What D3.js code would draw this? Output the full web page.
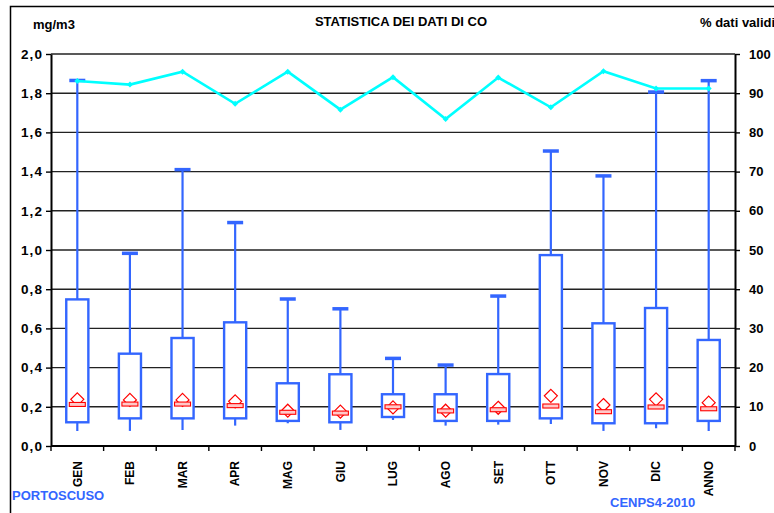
<!DOCTYPE html>
<html>
<head>
<meta charset="utf-8">
<script src="https://cdn.jsdelivr.net/npm/d3@7"></script>
<style>
  body { margin: 0; background: #fff; }
  text { font-family: "Liberation Sans", Arial, sans-serif; font-weight: bold; }
</style>
</head>
<body>
<div id="chart"></div>
<script>
// CO statistics per month (mg/m3) + % valid data
const categories = ['GEN', 'FEB', 'MAR', 'APR', 'MAG', 'GIU', 'LUG', 'AGO', 'SET', 'OTT', 'NOV', 'DIC', 'ANNO'];
const whiskerLow = [0.077, 0.077, 0.082, 0.104, 0.116, 0.082, 0.133, 0.104, 0.109, 0.112, 0.077, 0.090, 0.077];
const quartile1 = [0.121, 0.141, 0.141, 0.141, 0.128, 0.121, 0.148, 0.128, 0.128, 0.141, 0.116, 0.116, 0.128];
const medians = [0.212, 0.214, 0.214, 0.206, 0.172, 0.168, 0.200, 0.179, 0.185, 0.204, 0.175, 0.199, 0.190];
const means = [0.238, 0.235, 0.235, 0.228, 0.180, 0.175, 0.197, 0.180, 0.195, 0.256, 0.209, 0.238, 0.221];
const quartile3 = [0.748, 0.471, 0.551, 0.631, 0.320, 0.366, 0.264, 0.264, 0.367, 0.974, 0.626, 0.704, 0.541];
const whiskerHigh = [1.865, 0.983, 1.410, 1.140, 0.750, 0.700, 0.447, 0.413, 0.765, 1.505, 1.378, 1.806, 1.864];
const pctValid = [93.1, 92.2, 95.5, 87.3, 95.5, 85.8, 94.1, 83.4, 94.0, 86.4, 95.6, 91.2, 91.2];

const yTicks = [0, 0.2, 0.4, 0.6, 0.8, 1.0, 1.2, 1.4, 1.6, 1.8, 2.0];
const pctTicks = [0, 10, 20, 30, 40, 50, 60, 70, 80, 90, 100];

const dimensions = {
  width: 774,
  height: 513,
  plot: { left: 51, right: 735, top: 54, bottom: 446 }
}

const blue = '#3366ff';
const cyan = '#00ffff';
const red = '#ff0000';

const svg = d3.select('#chart')
  .append('svg')
  .attr('width', dimensions.width)
  .attr('height', dimensions.height);

// outer frame (only left and top visible)
svg.append('path')
  .attr('d', `M10.5,${dimensions.height} V6.5 H${dimensions.width}`)
  .attr('fill', 'none')
  .attr('stroke', '#000')
  .attr('stroke-width', 1.5);

// Scales
const xScale = d3.scaleBand()
  .domain(categories)
  .range([dimensions.plot.left, dimensions.plot.right]);

const yScale = d3.scaleLinear()
  .domain([0, 2])
  .range([dimensions.plot.bottom, dimensions.plot.top]);

const pctScale = d3.scaleLinear()
  .domain([0, 100])
  .range([dimensions.plot.bottom, dimensions.plot.top]);

const cx = d => xScale(d) + xScale.bandwidth() / 2;
const boxW = xScale.bandwidth() * 0.42;

// Gridlines
svg.append('g')
  .selectAll('line')
  .data(yTicks.slice(1))
  .join('line')
  .attr('x1', dimensions.plot.left)
  .attr('x2', dimensions.plot.right)
  .attr('y1', d => yScale(d))
  .attr('y2', d => yScale(d))
  .attr('stroke', '#222')
  .attr('stroke-width', 1.4);

// Whiskers
const boxes = svg.append('g');
boxes.selectAll('line.whisker')
  .data(categories)
  .join('line')
  .classed('whisker', true)
  .attr('x1', cx)
  .attr('x2', cx)
  .attr('y1', (d, i) => yScale(whiskerLow[i]))
  .attr('y2', (d, i) => yScale(whiskerHigh[i]))
  .attr('stroke', blue)
  .attr('stroke-width', 2.2);

boxes.selectAll('line.cap')
  .data(categories)
  .join('line')
  .classed('cap', true)
  .attr('x1', d => cx(d) - 8)
  .attr('x2', d => cx(d) + 8)
  .attr('y1', (d, i) => yScale(whiskerHigh[i]))
  .attr('y2', (d, i) => yScale(whiskerHigh[i]))
  .attr('stroke', blue)
  .attr('stroke-width', 3.5);

boxes.selectAll('rect.box')
  .data(categories)
  .join('rect')
  .classed('box', true)
  .attr('x', d => cx(d) - boxW / 2)
  .attr('width', boxW)
  .attr('y', (d, i) => yScale(quartile3[i]))
  .attr('height', (d, i) => yScale(quartile1[i]) - yScale(quartile3[i]))
  .attr('fill', '#fff')
  .attr('stroke', blue)
  .attr('stroke-width', 2.4);

// Mean diamonds
boxes.selectAll('path.mean')
  .data(categories)
  .join('path')
  .classed('mean', true)
  .attr('transform', (d, i) => `translate(${cx(d)}, ${yScale(means[i])})`)
  .attr('d', 'M0,-6.5 L6.5,0 L0,6.5 L-6.5,0 Z')
  .attr('fill', 'none')
  .attr('stroke', red)
  .attr('stroke-width', 1.2);

// Median markers
boxes.selectAll('rect.median')
  .data(categories)
  .join('rect')
  .classed('median', true)
  .attr('x', d => cx(d) - 8)
  .attr('width', 16)
  .attr('y', (d, i) => yScale(medians[i]) - 2)
  .attr('height', 4)
  .attr('fill', '#ffc8c8')
  .attr('stroke', red)
  .attr('stroke-width', 1.1);

// Axes
const fmt = d => d3.format('.1f')(d).replace('.', ',');

const yAxisGroup = svg.append('g')
  .attr('transform', `translate(${dimensions.plot.left}, 0)`)
  .call(d3.axisLeft(yScale).tickValues(yTicks).tickFormat(fmt).tickSize(5).tickSizeOuter(0).tickPadding(3));

const pctAxisGroup = svg.append('g')
  .attr('transform', `translate(${dimensions.plot.right}, 0)`)
  .call(d3.axisRight(pctScale).tickValues(pctTicks).tickSize(5).tickSizeOuter(0).tickPadding(9));

[yAxisGroup, pctAxisGroup].forEach(g => {
  g.select('.domain').attr('stroke', '#000').attr('stroke-width', 2);
  g.selectAll('.tick line').attr('stroke', '#000').attr('stroke-width', 1.4);
  g.selectAll('.tick text')
    .attr('fill', '#000')
    .style('font-size', '13px')
    .style('font-family', '"Liberation Sans", Arial, sans-serif')
    .style('font-weight', 'bold');
});
yAxisGroup.selectAll('.tick text')
  .style('font-size', '13.5px')
  .style('letter-spacing', '1.1px');

// x axis: line, boundary ticks and rotated labels
const xAxisGroup = svg.append('g');
xAxisGroup.append('line')
  .attr('x1', dimensions.plot.left)
  .attr('x2', dimensions.plot.right)
  .attr('y1', dimensions.plot.bottom)
  .attr('y2', dimensions.plot.bottom)
  .attr('stroke', '#000')
  .attr('stroke-width', 2);

xAxisGroup.selectAll('line.tick')
  .data(categories.map(d => xScale(d)).concat(dimensions.plot.right))
  .join('line')
  .classed('tick', true)
  .attr('x1', d => d)
  .attr('x2', d => d)
  .attr('y1', dimensions.plot.bottom)
  .attr('y2', dimensions.plot.bottom + 5)
  .attr('stroke', '#000')
  .attr('stroke-width', 1.4);

xAxisGroup.selectAll('text')
  .data(categories)
  .join('text')
  .attr('transform', d => `translate(${cx(d)}, 461) rotate(-90)`)
  .attr('dy', '0.36em')
  .attr('text-anchor', 'end')
  .style('font-size', '12px')
  .text(d => d);

// % valid line
const line = d3.line()
  .x((d, i) => cx(categories[i]))
  .y(d => pctScale(d));

svg.append('path')
  .datum(pctValid)
  .attr('d', line)
  .attr('fill', 'none')
  .attr('stroke', cyan)
  .attr('stroke-width', 2.6);

svg.append('g')
  .selectAll('path')
  .data(pctValid)
  .join('path')
  .attr('transform', (d, i) => `translate(${cx(categories[i])}, ${pctScale(d)})`)
  .attr('d', 'M0,-3 L3,0 L0,3 L-3,0 Z')
  .attr('fill', cyan);

// Texts
svg.append('text')
  .attr('x', 401).attr('y', 26)
  .attr('text-anchor', 'middle')
  .style('font-size', '13px')
  .text('STATISTICA DEI DATI DI CO');

svg.append('text')
  .attr('x', 33).attr('y', 29)
  .style('font-size', '13px')
  .text('mg/m3');

svg.append('text')
  .attr('x', 700).attr('y', 27)
  .style('font-size', '13px')
  .text('% dati validi');

svg.append('text')
  .attr('x', 12).attr('y', 500)
  .attr('fill', blue)
  .style('font-size', '13px')
  .text('PORTOSCUSO');

svg.append('text')
  .attr('x', 610).attr('y', 507)
  .attr('fill', blue)
  .style('font-size', '13px')
  .text('CENPS4-2010');
</script>
</body>
</html>
